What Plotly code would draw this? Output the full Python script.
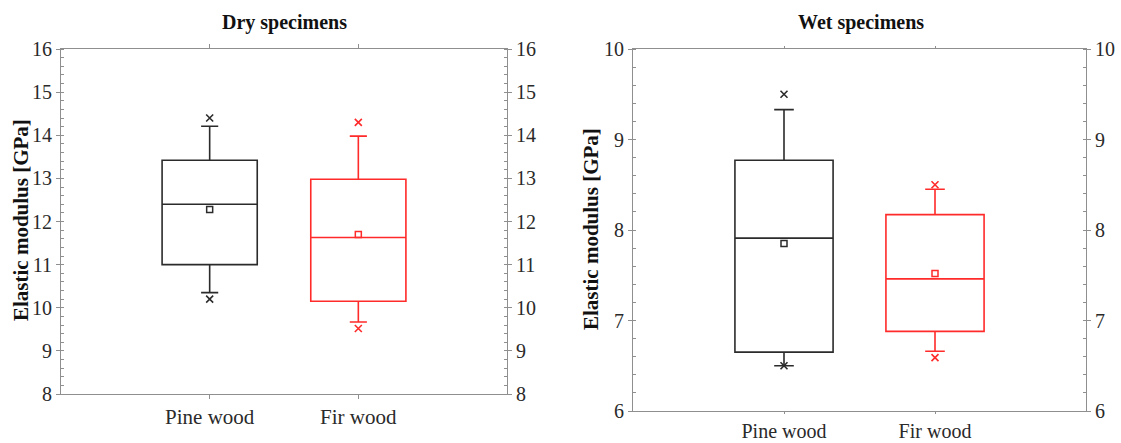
import plotly.graph_objects as go

categories = ["Pine wood", "Fir wood"]
colors = ["#2b2b2b", "#ff2a2a"]

# Dry specimens
dry_q1 = [11.0, 10.15]
dry_median = [12.40, 11.63]
dry_q3 = [13.42, 12.98]
dry_lowerfence = [10.35, 9.67]
dry_upperfence = [14.21, 13.98]
dry_min = [10.20, 9.52]
dry_max = [14.40, 14.30]
dry_mean = [12.28, 11.70]

# Wet specimens
wet_q1 = [6.65, 6.88]
wet_median = [7.91, 7.46]
wet_q3 = [8.77, 8.17]
wet_lowerfence = [6.50, 6.66]
wet_upperfence = [9.33, 8.45]
wet_min = [6.50, 6.59]
wet_max = [9.50, 8.50]
wet_mean = [7.85, 7.52]

dry_ticks = [8, 9, 10, 11, 12, 13, 14, 15, 16]
wet_ticks = [6, 7, 8, 9, 10]

W, H = 1121, 443
FONT = "Liberation Serif"
AXC = "#8f8f8f"
TXT = "#2a2a2a"

fig = go.Figure()


def add_panel(xa, ya, q1, med, q3, lf, uf, mn, mx, mean, bw, ww):
    for i, cat in enumerate(categories):
        c = colors[i]
        fig.add_trace(go.Box(
            x=[cat], q1=[q1[i]], median=[med[i]], q3=[q3[i]],
            lowerfence=[lf[i]], upperfence=[uf[i]],
            width=bw, whiskerwidth=ww, boxpoints=False,
            line=dict(color=c, width=1.6), fillcolor="rgba(0,0,0,0)",
            xaxis=xa, yaxis=ya, showlegend=False, hoverinfo="skip"))
        fig.add_trace(go.Scatter(
            x=[cat, cat], y=[mn[i], mx[i]], mode="markers",
            marker=dict(symbol="x-thin-open", size=7, color=c,
                        line=dict(color=c, width=1.6)),
            xaxis=xa, yaxis=ya, showlegend=False, hoverinfo="skip"))
        fig.add_trace(go.Scatter(
            x=[cat], y=[mean[i]], mode="markers",
            marker=dict(symbol="square-open", size=6, color=c,
                        line=dict(color=c, width=1.5)),
            xaxis=xa, yaxis=ya, showlegend=False, hoverinfo="skip"))


add_panel("x", "y", dry_q1, dry_median, dry_q3, dry_lowerfence, dry_upperfence,
          dry_min, dry_max, dry_mean, 0.64, 0.18)
add_panel("x2", "y2", wet_q1, wet_median, wet_q3, wet_lowerfence, wet_upperfence,
          wet_min, wet_max, wet_mean, 0.65, 0.2)

xdom1 = [61 / W, 507 / W]
xdom2 = [633 / W, 1086 / W]
ydom1 = [1 - 394 / H, 1 - 49 / H]
ydom2 = [1 - 411 / H, 1 - 49 / H]

tickfont = dict(family=FONT, size=20, color=TXT)


def xaxis(dom, anchor, size, tlen):
    return dict(domain=dom, anchor=anchor, type="category",
                categoryorder="array", categoryarray=categories,
                range=[-1, 2], showline=True, linecolor=AXC, linewidth=1.2,
                mirror="ticks", ticks="outside", ticklen=tlen, tickcolor=AXC,
                showgrid=False, zeroline=False, automargin=False,
                tickfont=dict(family=FONT, size=size, color=TXT),
                fixedrange=True)


def yaxis(dom, anchor, rng, ticks, side="left", overlaying=None):
    d = dict(domain=dom, anchor=anchor, range=rng, tickvals=ticks,
             showline=True, linecolor=AXC, linewidth=1.2,
             ticks="outside", ticklen=4, tickcolor=AXC,
             minor=dict(ticks="inside", dtick=0.2, ticklen=3, tickcolor=AXC, showgrid=False),
             showgrid=False, zeroline=False, automargin=False,
             tickfont=tickfont, side=side, fixedrange=True)
    if overlaying:
        d["overlaying"] = overlaying
    return d


fig.update_layout(
    template="none",
    width=W, height=H,
    margin=dict(l=0, r=0, t=0, b=0, pad=0),
    plot_bgcolor="white", paper_bgcolor="white",
    showlegend=False,
    xaxis=xaxis(xdom1, "y", 21, 4),
    xaxis2=xaxis(xdom2, "y2", 20, 2),
    yaxis=yaxis(ydom1, "x", [8, 16], dry_ticks),
    yaxis2=yaxis(ydom2, "x2", [6, 10], wet_ticks),
    yaxis3=yaxis(ydom1, "x", [8, 16], dry_ticks, side="right", overlaying="y"),
    yaxis4=yaxis(ydom2, "x2", [6, 10], wet_ticks, side="right", overlaying="y2"),
)

# dummy traces so overlay axes render
fig.add_trace(go.Scatter(x=[None], y=[None], xaxis="x", yaxis="y3", showlegend=False))
fig.add_trace(go.Scatter(x=[None], y=[None], xaxis="x2", yaxis="y4", showlegend=False))

ann = [
    dict(text="<b>Dry specimens</b>", x=284 / W, y=1 - 22 / H),
    dict(text="<b>Wet specimens</b>", x=861 / W, y=1 - 22 / H),
]
for a in ann:
    fig.add_annotation(xref="paper", yref="paper", x=a["x"], y=a["y"], text=a["text"],
                       showarrow=False, xanchor="center", yanchor="middle",
                       font=dict(family=FONT, size=20, color="#111111"))
for xx, yy in [(21 / W, 1 - 220 / H), (591 / W, 1 - 229 / H)]:
    fig.add_annotation(xref="paper", yref="paper", x=xx, y=yy,
                       text="<b>Elastic modulus [GPa]</b>", textangle=-90,
                       showarrow=False, xanchor="center", yanchor="middle",
                       font=dict(family=FONT, size=21, color="#111111"))

fig.write_html("out.html", config={"displayModeBar": False},
               post_script="document.body.style.margin='0';")
